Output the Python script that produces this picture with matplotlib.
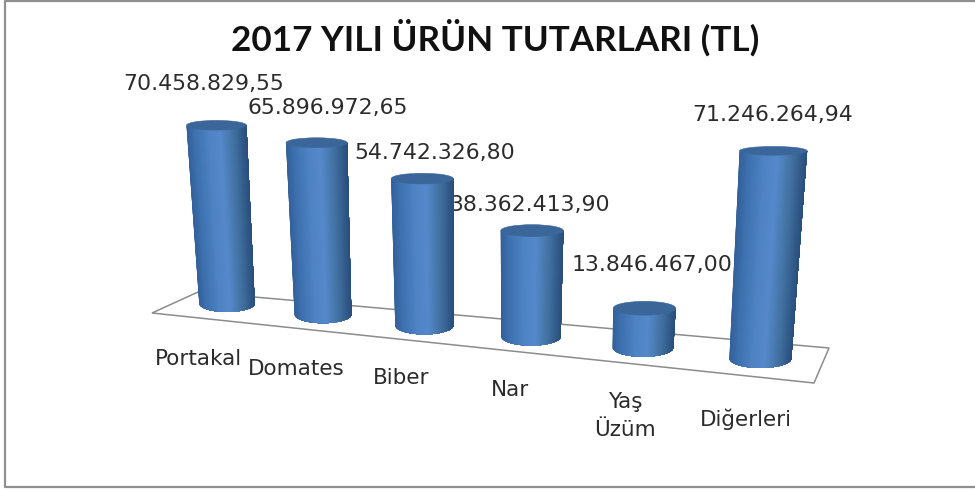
import numpy as np
import matplotlib
matplotlib.use("Agg")
import matplotlib.pyplot as plt
from matplotlib.colors import LinearSegmentedColormap
from matplotlib.patches import Ellipse, Polygon

title = "2017 YILI ÜRÜN TUTARLARI (TL)"
categories = ["Portakal", "Domates", "Biber", "Nar", "Yaş\nÜzüm", "Diğerleri"]
values = [70458829.55, 65896972.65, 54742326.80, 38362413.90, 13846467.00, 71246264.94]


def tr_format(v):
    return f"{v:,.2f}".replace(",", "#").replace(".", ",").replace("#", ".")


# Perspective model of the floor and the cylinders (pixel space of the figure)
def base_x(i):
    return 227 + 93.3 * i + 2.675 * i * i


def base_y(i):
    return 303.5 + 11 * i


def px_per_value(i):
    return (2.53 + 0.077 * i) / 1e6


def lean(x):
    return (x - 486) * 0.000228


def base_w(i):
    return 55.5 + 1.3 * i


fig = plt.figure(figsize=(9.75, 4.91), dpi=100)
ax = fig.add_axes([0, 0, 1, 1])
ax.set_xlim(0, 975)
ax.set_ylim(491, 0)
ax.axis("off")

# outer frame (left, top, bottom)
ax.plot([975, 5, 5, 975], [1, 1, 487, 487], color="#8f8f8f", lw=1.6, zorder=1)

# floor
floor = Polygon([(152, 313), (198, 292), (829, 348), (814, 383)], closed=True,
                fc="white", ec="#8c8c8c", lw=1.1, zorder=2)
ax.add_patch(floor)

cmap = LinearSegmentedColormap.from_list(
    "cyl", [(0, "#33619a"), (0.12, "#3d70ae"), (0.35, "#4d82c3"), (0.55, "#5689cb"),
            (0.78, "#41709f"), (0.92, "#315a8a"), (1, "#2b4f7d")])

N = 80
for i, v in enumerate(values):
    xb, yb = base_x(i), base_y(i)
    h = v * px_per_value(i)
    xt, yt = xb + lean(xb) * h, yb - h
    wb = base_w(i)
    wt = wb * (1 + 0.00035 * h) + 1
    ryb = 8.5 + 0.2 * i
    ryt = 7.5 - 0.015 * h
    theta = np.linspace(np.pi, 0, N + 1)
    us, rim = np.cos(theta), np.sin(theta)
    bottom = np.column_stack([xb + us * wb / 2, yb + ryb * rim])
    top = np.column_stack([xt + us * wt / 2, yt + ryt * rim])
    # painted left to right: every strip runs to the right edge so no seams show
    for k in range(N):
        pts = np.vstack([bottom[k:], top[k:][::-1]])
        ax.add_patch(Polygon(pts, closed=True, fc=cmap((us[k] + 1) / 2), ec="none", zorder=5))
    ax.add_patch(Ellipse((xt, yt), wt, 2 * ryt, fc="#3b6699", ec="#3b6699", lw=0.4, zorder=6))

# value labels (behind the cylinders)
label_xy = [(204, 84), (328, 108), (435, 153), (529.5, 205), (652, 265), (773, 115)]
for v, (x, y) in zip(values, label_xy):
    ax.text(x, y, tr_format(v), ha="center", va="center", fontsize=15.8,
            family="DejaVu Sans", color="#2b2b2b", zorder=4)

# category labels
cat_xy = [(198, 359), (296, 369), (401, 378), (510, 390), (625, 416), (746, 419)]
for c, (x, y) in zip(categories, cat_xy):
    ax.text(x, y, c, ha="center", va="center", fontsize=15.5, family="DejaVu Sans",
            color="#2b2b2b", linespacing=1.45, zorder=4)

ax.text(495, 38, title, ha="center", va="center", fontsize=25.2, fontweight="bold",
        family="Lato", color="#111111", zorder=4)

fig.savefig("out.png", dpi=100)
